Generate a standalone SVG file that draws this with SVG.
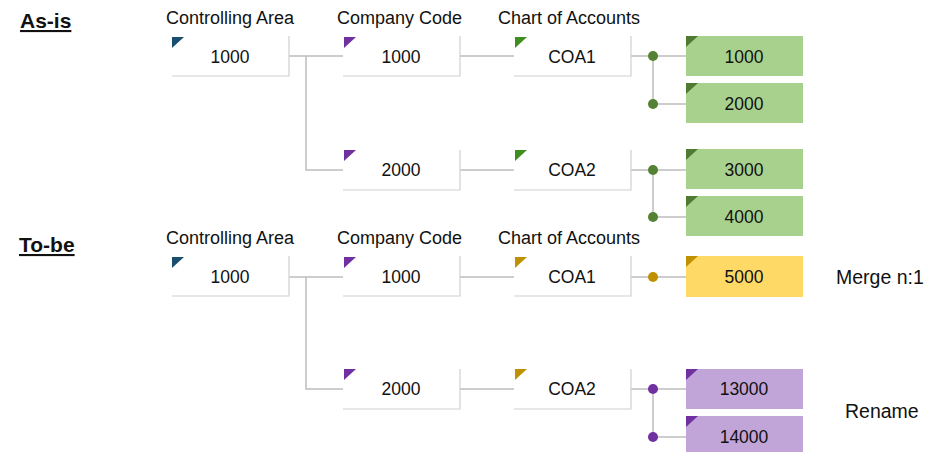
<svg xmlns="http://www.w3.org/2000/svg" width="935" height="452" viewBox="0 0 935 452">
<style>
text{font-family:"Liberation Sans",Arial,sans-serif;fill:#111;}
.h{font-size:18px;}
.t{font-size:17.5px;text-anchor:middle;dominant-baseline:central;}
.sec{font-size:21px;font-weight:bold;text-decoration:underline;}
.lbl{font-size:19.5px;}
.box{fill:#fff;}
.edge{fill:none;stroke:#d0d0d0;stroke-width:1.2;}
.conn{fill:none;stroke:#bdbdbd;stroke-width:1.5;}
.gr{fill:#a9d18e;}
.ye{fill:#ffd966;}
.pu{fill:#c2a5d8;}
</style>
<defs>
<g id="wbox"><rect class="box" x="0" y="0" width="117" height="40"/><polyline class="edge" points="117,0 117,40 0,40"/></g>
<polygon id="tri" points="0,0 12,0 0,11"/>
</defs>

<text class="sec" x="20" y="28">As-is</text>
<text class="sec" x="19" y="252">To-be</text>

<g id="headers">
<text class="h" x="166" y="24">Controlling Area</text>
<text class="h" x="337" y="24">Company Code</text>
<text class="h" x="498" y="24">Chart of Accounts</text>
<text class="h" x="166" y="244">Controlling Area</text>
<text class="h" x="337" y="244">Company Code</text>
<text class="h" x="498" y="244">Chart of Accounts</text>
</g>

<g id="connectors">
<polyline class="conn" points="289,56 344,56"/>
<polyline class="conn" points="306,56 306,170 344,170"/>
<polyline class="conn" points="459,56 515,56"/>
<polyline class="conn" points="459,170 515,170"/>
<polyline class="conn" points="631,56 686,56"/>
<polyline class="conn" points="653,56 653,104 686,104"/>
<polyline class="conn" points="631,170 686,170"/>
<polyline class="conn" points="653,170 653,217 686,217"/>
<circle cx="653" cy="56" r="5" fill="#548235"/>
<circle cx="653" cy="104" r="5" fill="#548235"/>
<circle cx="653" cy="170" r="5" fill="#548235"/>
<circle cx="653" cy="217" r="5" fill="#548235"/>

<polyline class="conn" points="289,277 344,277"/>
<polyline class="conn" points="306,277 306,389 344,389"/>
<polyline class="conn" points="459,277 515,277"/>
<polyline class="conn" points="459,389 515,389"/>
<polyline class="conn" points="631,277 686,277"/>
<polyline class="conn" points="631,389 686,389"/>
<polyline class="conn" points="653,389 653,437 686,437"/>
<circle cx="653" cy="277" r="5" fill="#bf9000"/>
<circle cx="653" cy="389" r="5" fill="#7030a0"/>
<circle cx="653" cy="437" r="5" fill="#7030a0"/>
</g>

<!-- As-is -->
<g id="asis-ca-1000"><use href="#wbox" x="172" y="36"/><use href="#tri" x="172" y="37" fill="#1a4e6e"/><text class="t" x="230" y="57">1000</text></g>
<g id="asis-cc-1000"><use href="#wbox" x="343" y="36"/><use href="#tri" x="344" y="37" fill="#7030a0"/><text class="t" x="401" y="57">1000</text></g>
<g id="asis-coa1"><use href="#wbox" x="514" y="36"/><use href="#tri" x="515" y="37" fill="#3f8e1f"/><text class="t" x="572" y="57">COA1</text></g>
<g id="asis-cc-2000"><use href="#wbox" x="343" y="150"/><use href="#tri" x="344" y="150" fill="#7030a0"/><text class="t" x="401" y="170">2000</text></g>
<g id="asis-coa2"><use href="#wbox" x="514" y="150"/><use href="#tri" x="515" y="150" fill="#3f8e1f"/><text class="t" x="572" y="170">COA2</text></g>
<g id="asis-g1000"><rect class="gr" x="686" y="36" width="117" height="40"/><use href="#tri" x="686" y="36" fill="#4f7a32"/><text class="t" x="744" y="57">1000</text></g>
<g id="asis-g2000"><rect class="gr" x="686" y="83" width="117" height="40"/><use href="#tri" x="686" y="83" fill="#4f7a32"/><text class="t" x="744" y="104">2000</text></g>
<g id="asis-g3000"><rect class="gr" x="686" y="149" width="117" height="40"/><use href="#tri" x="686" y="149" fill="#4f7a32"/><text class="t" x="744" y="170">3000</text></g>
<g id="asis-g4000"><rect class="gr" x="686" y="196" width="117" height="40"/><use href="#tri" x="686" y="196" fill="#4f7a32"/><text class="t" x="744" y="217">4000</text></g>

<!-- To-be -->
<g id="tobe-ca-1000"><use href="#wbox" x="172" y="256"/><use href="#tri" x="172" y="257" fill="#1a4e6e"/><text class="t" x="230" y="277">1000</text></g>
<g id="tobe-cc-1000"><use href="#wbox" x="343" y="256"/><use href="#tri" x="344" y="257" fill="#7030a0"/><text class="t" x="401" y="277">1000</text></g>
<g id="tobe-coa1"><use href="#wbox" x="514" y="256"/><use href="#tri" x="515" y="257" fill="#bf9000"/><text class="t" x="572" y="277">COA1</text></g>
<g id="tobe-cc-2000"><use href="#wbox" x="343" y="369"/><use href="#tri" x="344" y="369" fill="#7030a0"/><text class="t" x="401" y="389">2000</text></g>
<g id="tobe-coa2"><use href="#wbox" x="514" y="369"/><use href="#tri" x="515" y="369" fill="#bf9000"/><text class="t" x="572" y="389">COA2</text></g>
<g id="tobe-y5000"><rect class="ye" x="686" y="256" width="117" height="41"/><use href="#tri" x="686" y="256" fill="#bf9000"/><text class="t" x="744" y="277">5000</text></g>
<g id="tobe-p13000"><rect class="pu" x="686" y="369" width="117" height="40"/><use href="#tri" x="686" y="369" fill="#7030a0"/><text class="t" x="744" y="389">13000</text></g>
<g id="tobe-p14000"><rect class="pu" x="686" y="416" width="117" height="40"/><use href="#tri" x="686" y="416" fill="#7030a0"/><text class="t" x="744" y="437">14000</text></g>

<text class="lbl" x="836" y="284">Merge n:1</text>
<text class="lbl" x="845" y="418">Rename</text>
</svg>
